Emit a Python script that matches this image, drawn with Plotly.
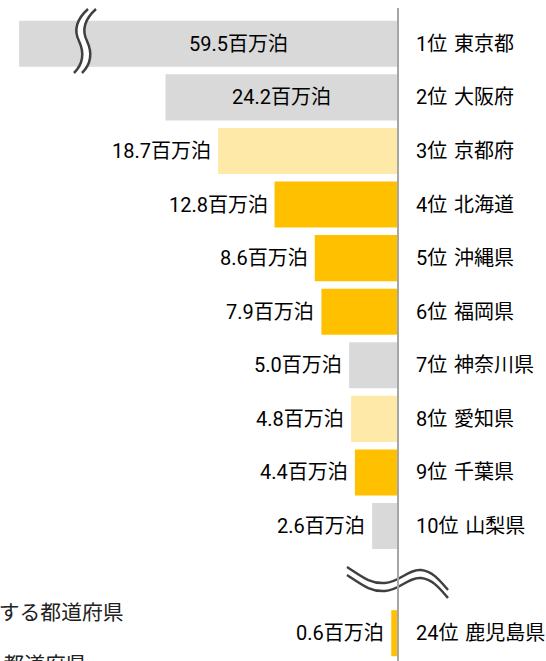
import plotly.graph_objects as go

# ---------------- data ----------------
ranks = ["1位", "2位", "3位", "4位", "5位", "6位", "7位", "8位", "9位", "10位", "24位"]
prefs = ["東京都", "大阪府", "京都府", "北海道", "沖縄県", "福岡県",
         "神奈川県", "愛知県", "千葉県", "山梨県", "鹿児島県"]
values = [59.5, 24.2, 18.7, 12.8, 8.6, 7.9, 5.0, 4.8, 4.4, 2.6, 0.6]
groups = ["other", "other", "light", "gold", "gold", "gold",
          "other", "light", "gold", "other", "gold"]
slots = [0, 1, 2, 3, 4, 5, 6, 7, 8, 9, 11]   # row 10 left empty for the axis break
unit = "百万泊"
legend_texts = ["観光客が増加する都道府県", "宿泊者が減少している都道府県"]

AXIS_CAP = 39.5        # displayed length of the broken (Tokyo) bar
X_MAX = 41.5           # axis range (reversed)
INSIDE = {0, 1}        # bars whose label sits inside

# ---------------- style ----------------
COLORS = {"other": "#D9D9D9", "light": "#FFE9A9", "gold": "#FFC000"}
FONT = "Roboto, Noto Sans CJK JP"
LFONT = "Noto Sans CJK JP"
FS = 20
W, H = 546, 661
ML, MR, MT, MB = 0, 149, 17, 1
PW, PH = W - ML - MR, H - MT - MB

def pp(px, py):
    """pixel position -> paper fraction (for decorations only)"""
    return (px - ML) / PW, (H - MB - py) / PH

disp = [min(v, AXIS_CAP) for v in values]
colors = [COLORS[g] for g in groups]

fig = go.Figure(go.Bar(
    x=disp, y=slots, orientation="h", marker=dict(color=colors, line_width=0),
    width=0.86, hoverinfo="skip"))

ann = []
scale = PW / X_MAX
break_px = 80  # centre of the vertical break symbol (px)
break_val = (PW - break_px) / scale
for i, (r, p, v, d, s) in enumerate(zip(ranks, prefs, values, disp, slots)):
    ann.append(dict(xref="paper", x=1, xanchor="left", xshift=17, yref="y", y=s,
                    yanchor="middle", text=f"{r}\u2004{p}", showarrow=False,
                    font=dict(family=FONT, size=FS, color="#000")))
    lab = f"{v:.1f}{unit}"
    if i in INSIDE:
        cx = break_val / 2 if v > AXIS_CAP else d / 2
        ann.append(dict(x=cx, xanchor="center", y=s, yanchor="middle", text=lab,
                        showarrow=False, font=dict(family=FONT, size=FS, color="#000")))
    else:
        ann.append(dict(x=d, xanchor="right", xshift=-5, y=s, yanchor="middle", text=lab,
                        showarrow=False, font=dict(family=FONT, size=FS, color="#000")))

# cut-off legend text at bottom-left
for t, py, xs in zip(legend_texts, [611, 663], [126, 89]):
    ann.append(dict(xref="paper", x=0, xanchor="right", xshift=xs,
                    yref="paper", y=pp(0, py)[1], yanchor="middle", text=t,
                    showarrow=False, font=dict(family=LFONT, size=20.8, color="#222")))

def path(points):
    pts = [pp(*p) for p in points]
    s = f"M {pts[0][0]:.5f},{pts[0][1]:.5f} "
    for k in range(1, len(pts), 3):
        a, b, c = pts[k], pts[k + 1], pts[k + 2]
        s += f"C {a[0]:.5f},{a[1]:.5f} {b[0]:.5f},{b[1]:.5f} {c[0]:.5f},{c[1]:.5f} "
    return s

def rev(points):
    return points[::-1]

shapes = []
# vertical (bar) break symbol
v1 = [(88, 9), (78, 18), (73, 29), (79, 41), (85, 54), (83, 64), (74, 73)]
v2 = [(x + 8, y) for x, y in v1]
fill_v = path(v1) + "L " + path(rev(v2))[2:] + "Z"
shapes.append(dict(type="path", xref="paper", yref="paper", path=fill_v,
                   fillcolor="white", line=dict(width=0), layer="above"))
for pl in (v1, v2):
    shapes.append(dict(type="path", xref="paper", yref="paper", path=path(pl),
                       line=dict(color="#404040", width=2.5), layer="above"))

# horizontal (axis) break symbol
h1 = [(347, 567), (361, 576), (370, 584), (385, 583), (400, 582), (408, 569),
      (421, 570), (433, 571), (441, 582), (448, 590)]
h2 = [(x, y + 8) for x, y in h1]
fill_h = path(h1) + "L " + path(rev(h2))[2:] + "Z"
shapes.append(dict(type="path", xref="paper", yref="paper", path=fill_h,
                   fillcolor="white", line=dict(width=0), layer="above"))
for pl in (h1, h2):
    shapes.append(dict(type="path", xref="paper", yref="paper", path=path(pl),
                       line=dict(color="#404040", width=2.5), layer="above"))

# vertical axis line
x0, y0 = pp(PW + 1, 8)
_, y1 = pp(PW + 1, 661)
shapes.append(dict(type="line", xref="paper", yref="paper", x0=x0, x1=x0, y0=y0, y1=y1,
                   line=dict(color="#A6A6A6", width=2), layer="above"))

fig.update_layout(
    width=W, height=H, margin=dict(l=ML, r=MR, t=MT, b=MB),
    paper_bgcolor="white", plot_bgcolor="white", showlegend=False,
    xaxis=dict(range=[X_MAX, 0], visible=False, fixedrange=True),
    yaxis=dict(range=[11.5, -0.5], visible=False, fixedrange=True),
    annotations=ann, shapes=shapes, bargap=0.14,
)
fig.write_html("out.html")
